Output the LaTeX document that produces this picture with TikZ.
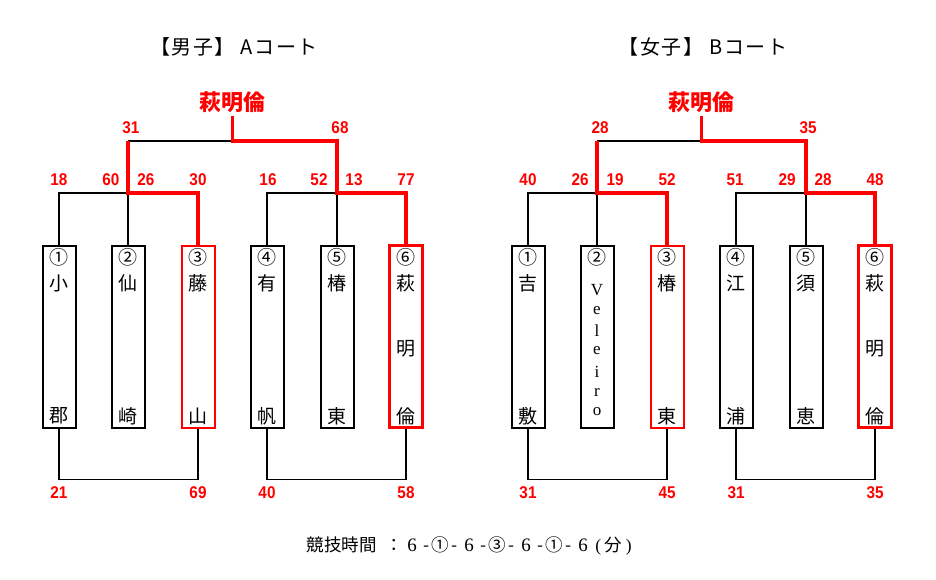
\documentclass[tikz,border=0pt]{standalone}
\usepackage{fontspec}
\setmainfont{Liberation Sans}
\newfontfamily\jp{Noto Sans CJK JP}
\newfontfamily\jpt[LetterSpace=8]{Noto Sans CJK JP}
\newfontfamily\numb[FakeStretch=0.9]{Liberation Sans Bold}
\newfontfamily\lat{Liberation Serif}
\newcommand\hb[1]{\makebox[11pt]{#1}}
\newcommand\sx{\makebox[17.5pt]{\lat\fontsize{19}{19}\selectfont 6}}
\begin{document}
\begin{tikzpicture}[x=1pt,y=-1pt,
  box/.style={draw=black,line width=2pt,minimum width=33pt,minimum height=182pt,inner sep=0pt},
  lbox/.style={box,draw=red,line width=2pt},
  wbox/.style={box,draw=red,line width=3.5pt},
  conn/.style={draw=black,line width=1.7pt},
  win/.style={draw=red,line width=3.5pt},
  score/.style={text=red,font=\numb\fontsize{17}{17}\selectfont,inner sep=0pt},
  btxt/.style={font=\jp\fontsize{19}{19}\selectfont,inner sep=0pt},
  vtxt/.style={font=\lat\fontsize{17}{17}\selectfont,inner sep=0pt},
  ttl/.style={font=\jpt\fontsize{20}{20}\selectfont,inner sep=0pt},
  champ/.style={text=red,font=\jp\bfseries\fontsize{22}{22}\selectfont,inner sep=0pt},
  foot/.style={font=\jp\fontsize{17.5}{17.5}\selectfont,inner sep=0pt}]
\useasboundingbox (0,0) rectangle (936,580);

% titles
\node[ttl] (tA) at (234,47) {【男子】 Aコート};
\node[ttl] (tB) at (703,47) {【女子】 Bコート};

% ===== left bracket =====
\node[box]  (Lb1) at (59,336.5) {};
\node[box]  (Lb2) at (128,336.5) {};
\node[lbox] (Lb3) at (198,336.5) {};
\node[box]  (Lb4) at (267,336.5) {};
\node[box]  (Lb5) at (337,336.5) {};
\node[wbox] (Lb6) at (406,336.5) {};

\node[btxt] (Ln1) at (59,257) {①};  \node[btxt] (La1) at (59,283) {小};  \node[btxt] (Lc1) at (59,416) {郡};
\node[btxt] (Ln2) at (128,257) {②}; \node[btxt] (La2) at (128,283) {仙}; \node[btxt] (Lc2) at (128,416) {崎};
\node[btxt] (Ln3) at (198,257) {③}; \node[btxt] (La3) at (198,283) {藤}; \node[btxt] (Lc3) at (198,416) {山};
\node[btxt] (Ln4) at (267,257) {④}; \node[btxt] (La4) at (267,283) {有}; \node[btxt] (Lc4) at (267,416) {帆};
\node[btxt] (Ln5) at (337,257) {⑤}; \node[btxt] (La5) at (337,283) {椿}; \node[btxt] (Lc5) at (337,416) {東};
\node[btxt] (Ln6) at (406,257) {⑥}; \node[btxt] (La6) at (406,283) {萩}; \node[btxt] (Lm6) at (406,349) {明}; \node[btxt] (Lc6) at (406,416) {倫};

\coordinate (Lj1) at (128,193);
\coordinate (Lj2) at (337,193);
\coordinate (Lk1) at (128,141);
\coordinate (Lk2) at (337,141);
\coordinate (Lk0) at (232.5,141);
\coordinate (Lt)  at (232.5,116);
\node[champ] (Lw) at (232.5,102) {萩明倫};

\draw[conn] (Lb1.north) |- (Lj1);
\draw[conn] (Lb2.north) -- (Lj1);
\draw[conn] (Lb4.north) |- (Lj2);
\draw[conn] (Lb5.north) -- (Lj2);
\draw[conn] (Lk1) -- (Lk0);
\draw[win] (Lb3.north) |- (Lj1) -- (Lk1);
\draw[win] (Lt) -- (Lk0) -- (Lk2) -- (Lj2) -| (Lb6.north);
\draw[conn] (Lb1.south) -- ++(0,51) -| (Lb3.south);
\draw[conn] (Lb4.south) -- ++(0,51) -| (Lb6.south);

\node[score] (Ls1) at (59,180) {18};
\node[score] (Ls2) at (111,180) {60};
\node[score] (Ls3) at (146,180) {26};
\node[score] (Ls4) at (198,180) {30};
\node[score] (Ls5) at (268,180) {16};
\node[score] (Ls6) at (319,180) {52};
\node[score] (Ls7) at (354,180) {13};
\node[score] (Ls8) at (406,180) {77};
\node[score] (Ls9) at (131,128) {31};
\node[score] (Ls10) at (340,128) {68};
\node[score] (Lq1) at (59,493) {21};
\node[score] (Lq2) at (198,493) {69};
\node[score] (Lq3) at (267,493) {40};
\node[score] (Lq4) at (406,493) {58};

% ===== right bracket =====
\node[box]  (Rb1) at (528,336.5) {};
\node[box]  (Rb2) at (597,336.5) {};
\node[lbox] (Rb3) at (667,336.5) {};
\node[box]  (Rb4) at (736,336.5) {};
\node[box]  (Rb5) at (806,336.5) {};
\node[wbox] (Rb6) at (875,336.5) {};

\node[btxt] (Rn1) at (528,257) {①}; \node[btxt] (Ra1) at (528,283) {吉}; \node[btxt] (Rc1) at (528,416) {敷};
\node[btxt] (Rn2) at (597,257) {②};
\node[vtxt] (Rv1) at (597,290) {V};
\node[vtxt] (Rv2) at (597,310.5) {e};
\node[vtxt] (Rv3) at (597,330.5) {l};
\node[vtxt] (Rv4) at (597,351) {e};
\node[vtxt] (Rv5) at (597,371.5) {i};
\node[vtxt] (Rv6) at (597,392) {r};
\node[vtxt] (Rv7) at (597,412) {o};
\node[btxt] (Rn3) at (667,257) {③}; \node[btxt] (Ra3) at (667,283) {椿}; \node[btxt] (Rc3) at (667,416) {東};
\node[btxt] (Rn4) at (736,257) {④}; \node[btxt] (Ra4) at (736,283) {江}; \node[btxt] (Rc4) at (736,416) {浦};
\node[btxt] (Rn5) at (806,257) {⑤}; \node[btxt] (Ra5) at (806,283) {須}; \node[btxt] (Rc5) at (806,416) {恵};
\node[btxt] (Rn6) at (875,257) {⑥}; \node[btxt] (Ra6) at (875,283) {萩}; \node[btxt] (Rm6) at (875,349) {明}; \node[btxt] (Rc6) at (875,416) {倫};

\coordinate (Rj1) at (597,193);
\coordinate (Rj2) at (806,193);
\coordinate (Rk1) at (597,141);
\coordinate (Rk2) at (806,141);
\coordinate (Rk0) at (701.5,141);
\coordinate (Rt)  at (701.5,116);
\node[champ] (Rw) at (701.5,102) {萩明倫};

\draw[conn] (Rb1.north) |- (Rj1);
\draw[conn] (Rb2.north) -- (Rj1);
\draw[conn] (Rb4.north) |- (Rj2);
\draw[conn] (Rb5.north) -- (Rj2);
\draw[conn] (Rk1) -- (Rk0);
\draw[win] (Rb3.north) |- (Rj1) -- (Rk1);
\draw[win] (Rt) -- (Rk0) -- (Rk2) -- (Rj2) -| (Rb6.north);
\draw[conn] (Rb1.south) -- ++(0,51) -| (Rb3.south);
\draw[conn] (Rb4.south) -- ++(0,51) -| (Rb6.south);

\node[score] (Rs1) at (528,180) {40};
\node[score] (Rs2) at (580,180) {26};
\node[score] (Rs3) at (615,180) {19};
\node[score] (Rs4) at (667,180) {52};
\node[score] (Rs5) at (735,180) {51};
\node[score] (Rs6) at (787,180) {29};
\node[score] (Rs7) at (823,180) {28};
\node[score] (Rs8) at (875,180) {48};
\node[score] (Rs9) at (600,128) {28};
\node[score] (Rs10) at (808,128) {35};
\node[score] (Rq1) at (528,493) {31};
\node[score] (Rq2) at (667,493) {45};
\node[score] (Rq3) at (736,493) {31};
\node[score] (Rq4) at (875,493) {35};

% footer
\node[foot] (ft) at (471,546) {競技時間\hspace{9pt}：\sx\hb{-}①\hb{-}\sx\hb{-}③\hb{-}\sx\hb{-}①\hb{-}\sx\makebox[13pt]{\lat(}分\makebox[13pt]{\lat)}};
\end{tikzpicture}
\end{document}
